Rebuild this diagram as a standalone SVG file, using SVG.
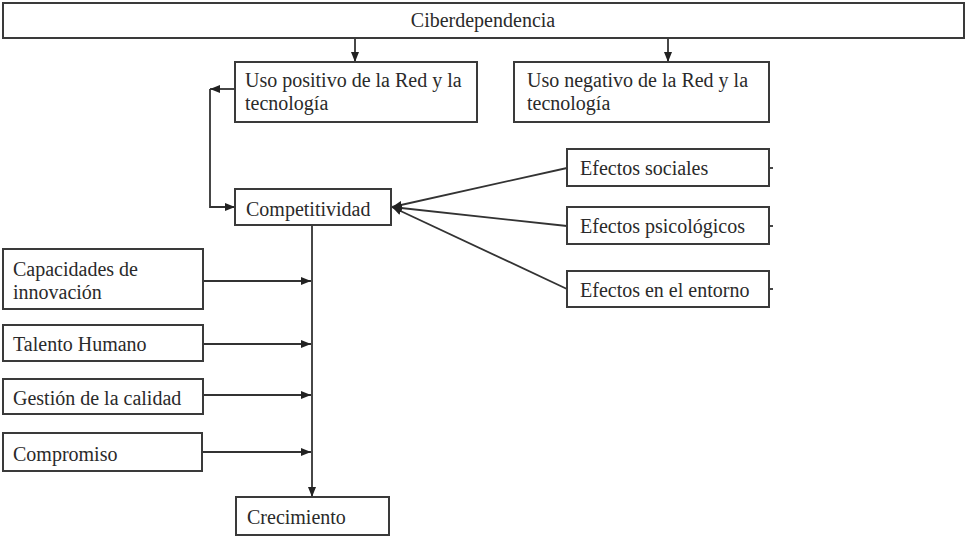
<svg xmlns="http://www.w3.org/2000/svg" width="968" height="540" viewBox="0 0 968 540">
<style>
.box{fill:#fff;stroke:#3a3a3a;stroke-width:2}
.t{font-family:"Liberation Serif","Times New Roman",serif;font-size:20px;fill:#2a2a2a}
.c{fill:none;stroke:#333;stroke-width:1.8}
</style>
<defs>
<marker id="ah" markerUnits="userSpaceOnUse" markerWidth="11" markerHeight="10" refX="10" refY="5" orient="auto">
<path d="M0,1 L10,5 L0,9 z" fill="#222"/>
</marker>
</defs>
<rect width="968" height="540" fill="#fff"/>
<g id="connectors">
<path class="c" d="M355,38 V62" marker-end="url(#ah)"/>
<path class="c" d="M668,38 V62" marker-end="url(#ah)"/>
<path class="c" d="M235,89 H210" marker-end="url(#ah)"/>
<path class="c" d="M210,89 V207 H235" marker-end="url(#ah)"/>
<path class="c" d="M567,168 L392,207" marker-end="url(#ah)"/>
<path class="c" d="M567,226 L392,207" marker-end="url(#ah)"/>
<path class="c" d="M567,289 L392,207" marker-end="url(#ah)"/>
<path class="c" d="M312,225 V497" marker-end="url(#ah)"/>
<path class="c" d="M203,281 H311" marker-end="url(#ah)"/>
<path class="c" d="M203,344 H311" marker-end="url(#ah)"/>
<path class="c" d="M203,395 H311" marker-end="url(#ah)"/>
<path class="c" d="M202,452 H311" marker-end="url(#ah)"/>
<path class="c" d="M769,168 H773"/>
<path class="c" d="M769,226 H773"/>
<path class="c" d="M769,289 H773"/>
</g>
<g id="ciberdependencia">
<rect class="box" x="3" y="3" width="961" height="35"/>
<text class="t" x="483" y="27" text-anchor="middle">Ciberdependencia</text>
</g>
<g id="uso-positivo">
<rect class="box" x="235" y="62" width="242" height="60"/>
<text class="t" x="245" y="87">Uso positivo de la Red y la</text>
<text class="t" x="245" y="110">tecnología</text>
</g>
<g id="uso-negativo">
<rect class="box" x="514" y="62" width="255" height="60"/>
<text class="t" x="527" y="87">Uso negativo de la Red y la</text>
<text class="t" x="527" y="110">tecnología</text>
</g>
<g id="competitividad">
<rect class="box" x="235" y="189" width="156" height="36"/>
<text class="t" x="246" y="216">Competitividad</text>
</g>
<g id="efectos-sociales">
<rect class="box" x="567" y="149" width="202" height="37"/>
<text class="t" x="580" y="175">Efectos sociales</text>
</g>
<g id="efectos-psicologicos">
<rect class="box" x="567" y="207" width="202" height="37"/>
<text class="t" x="580" y="233">Efectos psicológicos</text>
</g>
<g id="efectos-entorno">
<rect class="box" x="567" y="271" width="202" height="36"/>
<text class="t" x="580" y="297">Efectos en el entorno</text>
</g>
<g id="capacidades">
<rect class="box" x="3" y="249" width="200" height="60"/>
<text class="t" x="13" y="276">Capacidades de</text>
<text class="t" x="13" y="299">innovación</text>
</g>
<g id="talento">
<rect class="box" x="3" y="325" width="200" height="36"/>
<text class="t" x="13" y="351">Talento Humano</text>
</g>
<g id="gestion">
<rect class="box" x="3" y="379" width="200" height="35"/>
<text class="t" x="13" y="405">Gestión de la calidad</text>
</g>
<g id="compromiso">
<rect class="box" x="3" y="433" width="199" height="38"/>
<text class="t" x="13" y="461">Compromiso</text>
</g>
<g id="crecimiento">
<rect class="box" x="236" y="497" width="153" height="38"/>
<text class="t" x="247" y="524">Crecimiento</text>
</g>
</svg>
